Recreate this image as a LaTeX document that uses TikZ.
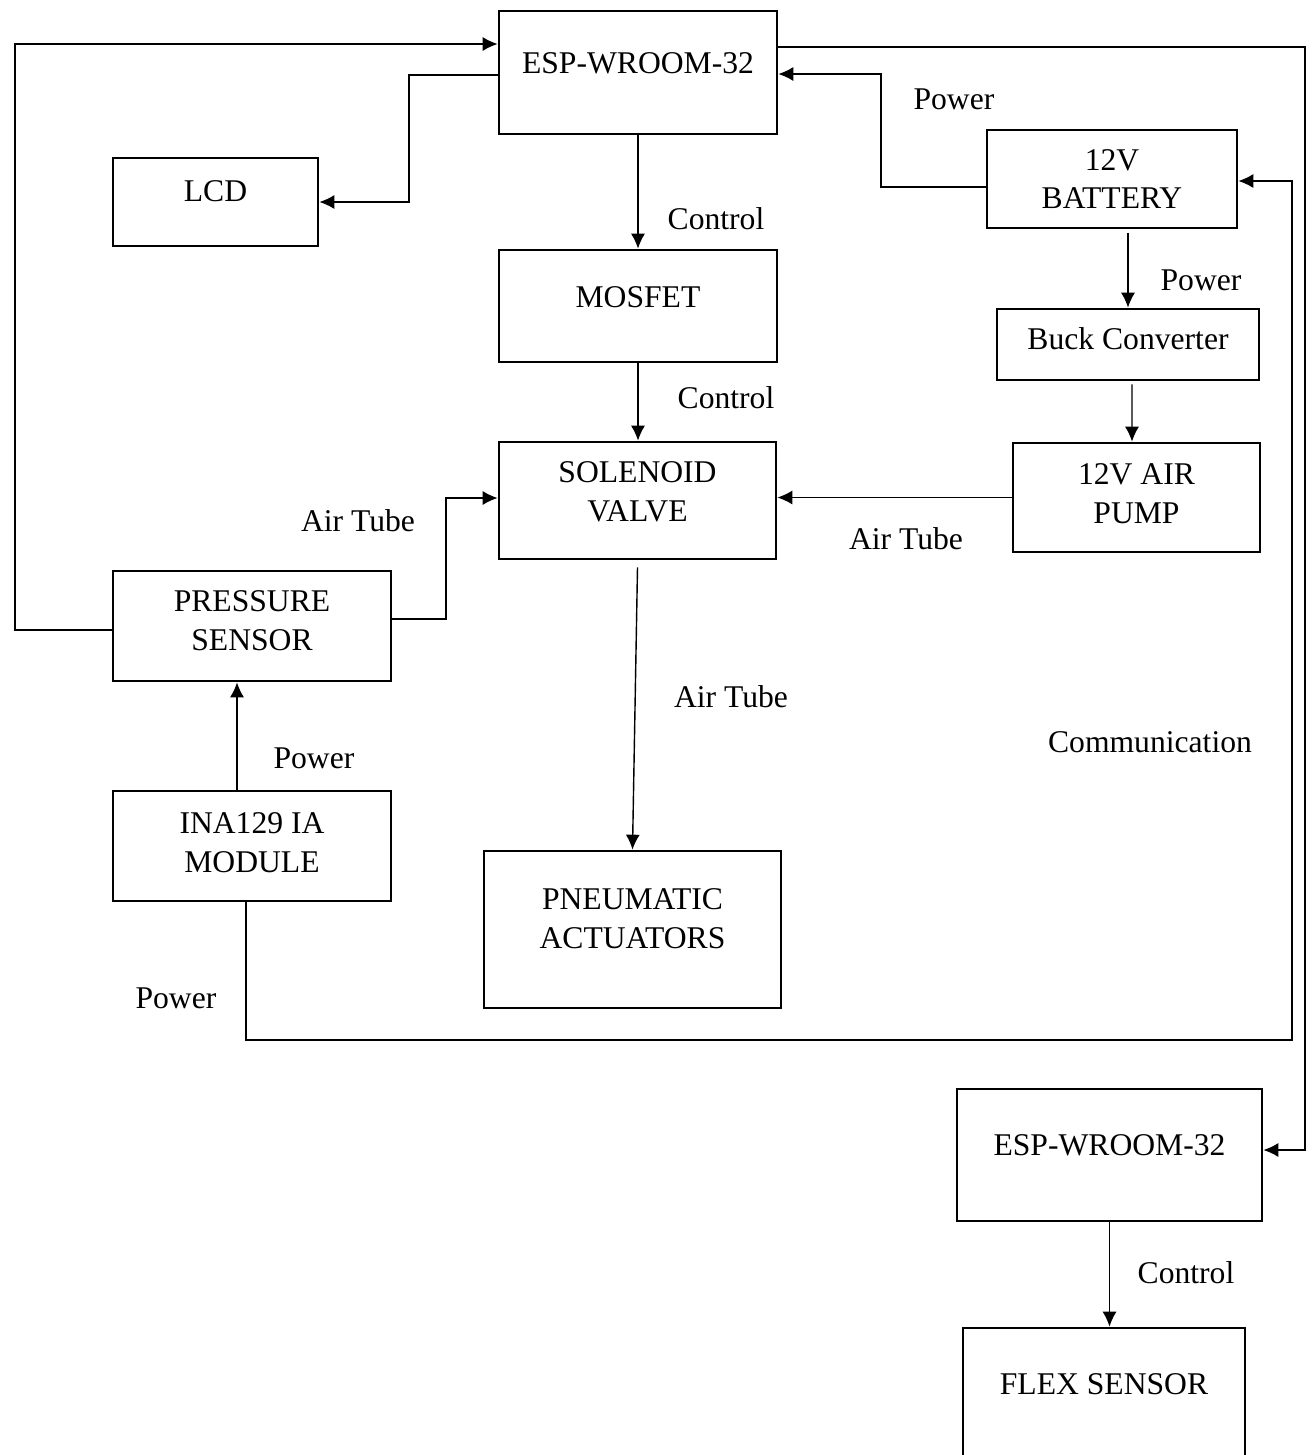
\documentclass[tikz,border=0pt]{standalone}
\usepackage{fontspec}
\setmainfont{Liberation Serif}
\usetikzlibrary{arrows.meta}
\newcommand{\lift}[1]{\rule[-#1]{0pt}{#1}}

\begin{document}
\begin{tikzpicture}[x=0.02cm,y=-0.02cm,
  blk/.style={draw,line width=1.6pt,align=center,inner sep=0pt,font=\fontsize{18}{22}\selectfont},
  lbl/.style={inner sep=0pt,font=\fontsize{18}{22}\selectfont},
  conn/.style={line width=0.8pt,-{Latex[length=8.5pt,width=8pt]}},
  wire/.style={line width=0.8pt}]
  \useasboundingbox (0,0) rectangle (1312,1455);

  \node[blk,minimum width=5.56cm,minimum height=2.46cm] (espA) at (638,72.5) {ESP-WROOM-32\lift{0.38cm}};
  \node[blk,minimum width=4.1cm,minimum height=1.76cm] (lcd) at (215.5,202) {LCD\lift{0.44cm}};
  \node[blk,minimum width=5.56cm,minimum height=2.24cm] (mosfet) at (638,306) {MOSFET\lift{0.36cm}};
  \node[blk,minimum width=5cm,minimum height=1.96cm] (batt) at (1112,179) {12V\\BATTERY};
  \node[blk,minimum width=5.24cm,minimum height=1.42cm] (buck) at (1128,344.5) {Buck Converter\lift{0.22cm}};
  \node[blk,minimum width=5.54cm,minimum height=2.34cm] (valve) at (637.5,500.5) {SOLENOID\\VALVE\lift{0.36cm}};
  \node[blk,minimum width=4.94cm,minimum height=2.18cm] (pump) at (1136.5,497.5) {12V AIR\\PUMP\lift{0.16cm}};
  \node[blk,minimum width=5.56cm,minimum height=2.2cm] (press) at (252,626) {PRESSURE\\SENSOR\lift{0.22cm}};
  \node[blk,minimum width=5.56cm,minimum height=2.2cm] (ina) at (252,846) {INA129 IA\\MODULE\lift{0.14cm}};
  \node[blk,minimum width=5.94cm,minimum height=3.14cm] (act) at (632.5,929.5) {PNEUMATIC\\ACTUATORS\lift{0.44cm}};
  \node[blk,minimum width=6.1cm,minimum height=2.64cm] (espB) at (1109.5,1155) {ESP-WROOM-32\lift{0.4cm}};
  \node[blk,minimum width=5.64cm,minimum height=2.84cm] (flex) at (1104,1399) {FLEX SENSOR\lift{0.6cm}};

  \node[lbl] (ctrlA) at (716,219) {Control};
  \node[lbl] (ctrlB) at (726,398) {Control};
  \node[lbl] (pwrA) at (954,99) {Power};
  \node[lbl] (pwrB) at (1201,280) {Power};
  \node[lbl] (tubeA) at (358,521) {Air Tube};
  \node[lbl] (tubeB) at (906,539) {Air Tube};
  \node[lbl] (tubeC) at (731,697) {Air Tube};
  \node[lbl] (comm) at (1150,742) {Communication};
  \node[lbl] (pwrC) at (314,758) {Power};
  \node[lbl] (pwrD) at (176,998) {Power};
  \node[lbl] (ctrlC) at (1186,1273) {Control};

  \coordinate (kL) at (15,44);
  \coordinate (kD) at (409,75);
  \coordinate (kB) at (881,74);
  \coordinate (kR) at (1305,47);
  \coordinate (kP) at (1292,1040);
  \coordinate (kA) at (446,498);

  % main controller
  \draw[conn] (kD -| espA.west) -- (kD) |- (lcd.east);
  \draw[conn] (espA.south) -- (espA.south |- mosfet.north);
  \draw[conn] (mosfet.south) -- (mosfet.south |- valve.north);
  \draw[conn] ([yshift=-0.16cm]batt.west) -| (kB) -- (kB -| espA.east);
  \draw[conn] (kR -| espA.east) -- (kR) |- ([yshift=0.1cm]espB.east);
  \draw[conn] ([yshift=-0.08cm]press.west) -| (kL) -- (kL -| espA.west);

  % power and air
  \draw[conn] ([xshift=-0.12cm]ina.south) |- (kP) |- ([yshift=-0.04cm]batt.east);
  \draw[conn] ([xshift=-0.3cm]ina.north) -- ([xshift=-0.3cm]press.south);
  \draw[conn] ([yshift=0.14cm]press.east) -| (kA) -- (kA -| valve.west);
  \draw[conn] ([yshift=-0.14cm]valve.south) -- (act.north);
  \draw[conn] (pump.west) -- (pump.west -| valve.east);
  \draw[conn] ([yshift=1.5cm]buck.north) -- (buck.north);
  \draw[conn] ([xshift=0.08cm,yshift=-0.06cm]buck.south) -- ([xshift=-0.09cm]pump.north);
  \draw[conn] (espB.south) -- (espB.south |- flex.north);
\end{tikzpicture}
\end{document}
